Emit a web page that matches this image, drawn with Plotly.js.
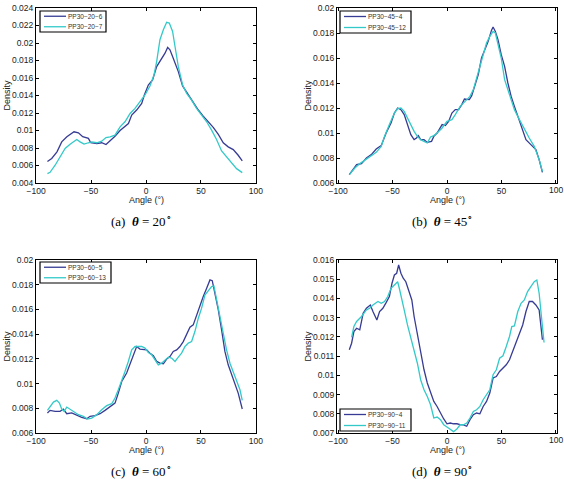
<!DOCTYPE html>
<html>
<head>
<meta charset="utf-8">
<script src="https://cdn.plot.ly/plotly-3.0.1.min.js"></script>
<style>html,body{margin:0;padding:0;background:#fff}#chart{width:564px;height:483px}</style>
</head>
<body>
<div id="chart"></div>
<script>
// ---- Data ----
const names20 = ['PP30\u221220\u22126', 'PP30\u221220\u22127'];
const x20a = [-89.7,-85.8,-81,-76.7,-72,-67.6,-65.5,-61.5,-57.6,-52.4,-50.3,-44.8,-40.3,-36.4,-32.7,-28.2,-23.6,-19.1,-16,-13,-8.5,-3.9,-1.5,2.1,6,9.7,14.2,17.3,19.7,21.8,24.8,29.4,33.3,38.5,43,47.6,52.1,56.7,61.2,65.8,70.3,74.8,79.4,83.9,87.6];
const y20a = [0.00645,0.0068,0.00756,0.0087,0.00928,0.00966,0.00985,0.00974,0.0093,0.0091,0.0086,0.0085,0.0086,0.0084,0.0088,0.00935,0.0100,0.01054,0.0108,0.01176,0.01234,0.0131,0.01406,0.0152,0.01578,0.0173,0.01815,0.01884,0.0195,0.01922,0.01826,0.01673,0.01509,0.01406,0.0131,0.01234,0.01165,0.0110,0.01035,0.00955,0.0086,0.00813,0.00782,0.00717,0.00652];
const x20b = [-89.7,-87.3,-82.7,-78.2,-73.6,-69.1,-65.5,-63,-60,-56.4,-52.4,-49.4,-44.8,-40.3,-36.4,-32.7,-28.2,-23.6,-19.1,-14.5,-10,-5.5,-0.9,3.6,7.3,9.7,12.7,15.8,18.8,21.2,24.2,26.4,29.4,33.3,37,41.5,46,50.6,55.2,59.7,64.2,68.8,73.3,77.9,82.4,87.6];
const y20b = [0.00507,0.00522,0.00603,0.00698,0.00794,0.00844,0.0087,0.00897,0.0087,0.00844,0.0086,0.0087,0.0086,0.00878,0.0092,0.00928,0.00947,0.01042,0.011,0.01195,0.01253,0.0133,0.01406,0.01509,0.01635,0.01788,0.02037,0.02151,0.02236,0.02228,0.02132,0.0196,0.0173,0.0152,0.01425,0.01348,0.01253,0.01176,0.011,0.01004,0.00897,0.00767,0.00698,0.00622,0.00564,0.00519];

const names45 = ['PP30\u221245\u22124', 'PP30\u221245\u221212'];
const x45a = [-89.7,-86,-83,-78.5,-74,-69.5,-65,-60.4,-55.9,-51.4,-48.3,-45.3,-42.3,-39.3,-36.3,-33.2,-30.2,-28,-26.3,-24.2,-21.1,-18.1,-14.2,-12.1,-9.1,-4.5,-1.5,1.5,4.5,7.6,10.6,13.6,16,18.1,20.5,22.7,25.7,28.7,31.7,34.7,37.8,40.8,42.3,44.4,46.8,49.8,52.9,55.9,58.9,61.9,65,68,72.5,77,81.6,84.6,87.6];
const y45a = [0.00667,0.00707,0.00747,0.00755,0.008,0.00827,0.00872,0.00899,0.01,0.0108,0.0116,0.012,0.01187,0.01147,0.01067,0.00987,0.00947,0.0096,0.00979,0.00947,0.00947,0.00925,0.00933,0.00973,0.01,0.01067,0.01059,0.01093,0.0116,0.01187,0.01187,0.01227,0.01272,0.01272,0.01267,0.01299,0.01387,0.01467,0.016,0.01667,0.01733,0.01821,0.01848,0.01813,0.01747,0.01627,0.01533,0.014,0.01293,0.01213,0.01133,0.01053,0.00947,0.00907,0.00867,0.00787,0.00685];
const x45b = [-89.7,-84.6,-80,-74,-69.5,-65,-60.4,-57.4,-52.9,-48.3,-45.3,-42.3,-39.3,-36.3,-33.2,-30.2,-27.2,-24.2,-21.1,-18.1,-15.1,-12.1,-9.1,-4.5,0,4.5,7.6,12.1,16.6,21.1,24.2,27.2,31.7,36.3,39.3,42.3,44.4,46.8,49.8,52.9,55.9,58.9,61.9,66.5,71,75.5,80.1,84.6,87.6];
const y45b = [0.00667,0.0072,0.00755,0.00792,0.00813,0.00845,0.00893,0.00973,0.01067,0.0116,0.01195,0.012,0.01173,0.0112,0.01067,0.01013,0.00973,0.00947,0.00933,0.0092,0.00968,0.00979,0.01,0.0104,0.01093,0.01107,0.01147,0.01213,0.01253,0.01293,0.01347,0.0144,0.0156,0.0172,0.01773,0.01813,0.018,0.0172,0.016,0.01427,0.01347,0.01267,0.01187,0.01107,0.01027,0.0096,0.00893,0.00787,0.00693];

const names60 = ['PP30\u221260\u22125', 'PP30\u221260\u221213'];
const x60a = [-89.7,-87.3,-82.7,-78.2,-75.2,-72.1,-67.6,-63,-58.5,-53.9,-50.9,-46.4,-41.8,-37.3,-32.7,-28.2,-25.2,-22.1,-17.6,-13.9,-11.5,-8.5,-5.5,-2.4,0.6,3.6,6.7,9.7,12.7,15.8,18.8,21.8,24.8,27.9,30.9,33.9,37,40,43,46.1,49.1,52.1,55.2,58.2,60.3,62.7,65.8,68.8,71.8,74.8,77.9,80.9,83.9,87.6];
const y60a = [0.00762,0.00783,0.00775,0.00775,0.00794,0.00756,0.00762,0.00743,0.00727,0.00716,0.00735,0.0074,0.00756,0.00783,0.0081,0.00842,0.00923,0.01017,0.01085,0.01179,0.01233,0.0130,0.01279,0.01273,0.01273,0.01246,0.01225,0.01179,0.01165,0.0116,0.01198,0.01219,0.0126,0.01273,0.0130,0.0134,0.01394,0.01456,0.01475,0.01556,0.01637,0.01704,0.01771,0.01839,0.01833,0.01731,0.01596,0.01435,0.0126,0.01152,0.01071,0.01004,0.00923,0.00794];
const x60b = [-89.7,-87.3,-84.2,-81.2,-78.8,-76.7,-74.5,-72.1,-69.1,-66.1,-61.5,-57,-53.3,-49.4,-44.8,-40.3,-35.8,-31.2,-28.2,-25.2,-22.1,-19.1,-16.1,-13,-10,-7,-3.9,-0.9,2.1,5.2,8.2,11.2,14.2,17.3,20.3,23.3,26.4,29.4,32.4,35.5,38.5,41.5,44.5,47.6,50.6,53.6,56.7,59.7,61.8,64.2,67.3,70.3,73.3,76.4,79.4,82.4,85.5,87.6];
const y60b = [0.00783,0.00815,0.0085,0.00864,0.00842,0.00794,0.00775,0.0081,0.00794,0.00775,0.00748,0.00735,0.00713,0.00721,0.00748,0.00788,0.00821,0.00837,0.00883,0.0095,0.01017,0.01098,0.01179,0.01273,0.0130,0.0130,0.0130,0.01287,0.01252,0.01233,0.01192,0.01152,0.01165,0.01192,0.01214,0.01206,0.01179,0.01214,0.01246,0.0130,0.01327,0.0134,0.01421,0.01529,0.0161,0.01717,0.01752,0.01785,0.0179,0.01677,0.01556,0.01421,0.01273,0.01165,0.01098,0.01031,0.0095,0.00864];

const names90 = ['PP30\u221290\u22124', 'PP30\u221290\u221211'];
const x90a = [-89.7,-87.6,-85.5,-83,-80.1,-77,-74,-70.4,-68,-64.4,-61.9,-58.9,-55.9,-52.9,-50.5,-48.3,-46.2,-44.4,-42.3,-40.2,-37.8,-35.3,-32.3,-30.2,-27.2,-24.2,-21.1,-18.1,-15.1,-12.1,-9.1,-6,-3,0,3,6,9.1,12.1,15.1,18.1,21.1,24.2,27.2,30.2,33.2,36.3,39.3,42.3,45.3,48.3,51.4,54.4,57.4,60.4,63.4,66.5,69.5,72.5,75.5,78.5,81.6,84.6,87.6];
const y90a = [0.01133,0.01167,0.01228,0.01245,0.01237,0.01323,0.01349,0.01366,0.01332,0.01288,0.01332,0.01349,0.01378,0.0141,0.01479,0.01522,0.01531,0.01574,0.01531,0.01505,0.01487,0.01444,0.01392,0.01306,0.01211,0.01115,0.01029,0.0096,0.00916,0.00864,0.00838,0.00804,0.00773,0.00748,0.00752,0.00748,0.00748,0.00743,0.00742,0.00735,0.00769,0.00795,0.00804,0.008,0.00838,0.00864,0.00908,0.00986,0.00994,0.0102,0.01037,0.01055,0.01081,0.01124,0.01167,0.01219,0.01262,0.01332,0.01384,0.01384,0.01366,0.0134,0.01185];
const x90b = [-87.6,-85.5,-83,-78.5,-74,-71,-68,-65.6,-63.4,-60.4,-57.4,-54.4,-51.4,-48.3,-45.3,-43.8,-41.4,-39.3,-36.3,-33.2,-30.2,-27.2,-24.2,-21.1,-18.1,-15.1,-12.1,-9.1,-6,-3,0,3,6,9.1,12.1,15.1,18.1,21.1,24.2,27.2,30.2,33.2,36.3,39.3,42.3,45.3,48.3,51.4,54.4,57.4,59.5,61.9,65,68,71,74,77,80.1,82.5,84.6,86.7,89.1];
const y90b = [0.01198,0.01254,0.0128,0.01306,0.0134,0.01349,0.01366,0.01375,0.01384,0.01375,0.01384,0.0141,0.01453,0.0147,0.01487,0.01453,0.01384,0.0134,0.01262,0.01193,0.01133,0.01063,0.00977,0.00925,0.0089,0.00847,0.00778,0.00783,0.00769,0.00743,0.00731,0.00717,0.00707,0.00721,0.00743,0.00743,0.00752,0.00778,0.00812,0.00821,0.00838,0.00873,0.00899,0.00925,0.01003,0.01029,0.01089,0.01102,0.0115,0.01202,0.01254,0.01257,0.01332,0.01375,0.01392,0.01436,0.01462,0.01487,0.01496,0.01427,0.01306,0.01171];

// tick labels
const xTicks = [-100, -50, 0, 50, 100];
const xTickText = ['\u2212100', '\u221250', '0', '50', '100'];
const yTicks20 = [0.004,0.006,0.008,0.01,0.012,0.014,0.016,0.018,0.02,0.022,0.024];
const yTickText20 = ['0.004','0.006','0.008','0.01','0.012','0.014','0.016','0.018','0.02','0.022','0.024'];
const yTicks45 = [0.006,0.008,0.01,0.012,0.014,0.016,0.018,0.02];
const yTickText45 = ['0.006','0.008','0.01','0.012','0.014','0.016','0.018','0.02'];
const yTicks90 = [0.007,0.008,0.009,0.01,0.011,0.012,0.013,0.014,0.015,0.016];
const yTickText90 = ['0.007','0.008','0.009','0.01','0.011','0.012','0.013','0.014','0.015','0.016'];
const captions = ['(a)', '(b)', '(c)', '(d)'];
const thetas = ['20', '45', '60', '90'];
const xLabel = 'Angle (\u00b0)';
const yLabel = 'Density';

// ---- Styling / layout ----
const C1 = '#363b94', C2 = '#33c9c9';
const W = 564, H = 483;
const boxes = [ // pixel boxes [left,right,top,bottom]
  [36, 256, 8, 183], [337, 557, 8, 183], [36, 256, 260, 433], [337, 557, 260, 433]
];
const xRanges = [[-100.1, 100.1], [-101, 101], [-100.1, 100.1], [-101, 101]];
// right-column panels: Plotly drops the last tick label at the page edge, so it is placed via the axis scale instead
const edgeLabelFix = [false, true, false, true];
// legend boxes in pixels [left,right,top,bottom] (compact MATLAB-style legends)
const legBoxes = [[40, 106, 11, 32], [340, 411, 11, 33], [40, 111, 262, 283], [340, 411, 409, 431]];
const px = v => v / W, py = v => 1 - v / H;
const sans = 'Liberation Sans, Arial, sans-serif';
const tickFont = {family: sans, size: 8.5, color: '#222'};

const sets = [
  {names: names20, xa: x20a, ya: y20a, xb: x20b, yb: y20b, yr: [0.004, 0.024], yt: yTicks20, ytt: yTickText20},
  {names: names45, xa: x45a, ya: y45a, xb: x45b, yb: y45b, yr: [0.006, 0.02], yt: yTicks45, ytt: yTickText45},
  {names: names60, xa: x60a, ya: y60a, xb: x60b, yb: y60b, yr: [0.006, 0.02], yt: yTicks45, ytt: yTickText45},
  {names: names90, xa: x90a, ya: y90a, xb: x90b, yb: y90b, yr: [0.007, 0.016], yt: yTicks90, ytt: yTickText90}
];

const data = [];
const layout = {
  width: W, height: H, margin: {l: 0, r: 0, t: 0, b: 0},
  paper_bgcolor: '#fff', plot_bgcolor: '#fff', showlegend: false,
  annotations: [], shapes: []
};
sets.forEach((s, i) => {
  const n = i === 0 ? '' : String(i + 1);
  const b = boxes[i];
  const colors = [C1, C2];
  data.push({x: s.xa, y: s.ya, type: 'scatter', mode: 'lines', name: s.names[0],
    line: {color: C1, width: 1.3}, xaxis: 'x' + n, yaxis: 'y' + n});
  data.push({x: s.xb, y: s.yb, type: 'scatter', mode: 'lines', name: s.names[1],
    line: {color: C2, width: 1.3}, xaxis: 'x' + n, yaxis: 'y' + n});
  const common = {showgrid: false, zeroline: false, showline: true, linecolor: '#000', linewidth: 1,
    mirror: 'allticks', ticks: 'inside', ticklen: 3, tickcolor: '#000', tickfont: tickFont,
    fixedrange: true, ticklabeloverflow: 'allow'};
  const tt = edgeLabelFix[i] ? xTickText.map((t, k) => k === xTickText.length - 1 ? '' : t) : xTickText;
  layout['xaxis' + n] = Object.assign({}, common, {domain: [px(b[0]), px(b[1])], range: xRanges[i],
    tickvals: xTicks, ticktext: tt, anchor: 'y' + n});
  layout['yaxis' + n] = Object.assign({}, common, {domain: [py(b[3]), py(b[2])], range: s.yr,
    tickvals: s.yt, ticktext: s.ytt, anchor: 'x' + n});
  if (edgeLabelFix[i]) {
    const last = xTicks.length - 1;
    layout.annotations.push({xref: 'x' + n, yref: 'y' + n, x: xTicks[last], y: s.yr[0], text: xTickText[last],
      showarrow: false, xanchor: 'center', yanchor: 'top', yshift: -1, borderpad: 0, font: tickFont});
  }
  // compact legend: box, line samples, labels
  const L = legBoxes[i];
  layout.shapes.push({type: 'rect', xref: 'paper', yref: 'paper', x0: px(L[0]), x1: px(L[1]), y0: py(L[3]), y1: py(L[2]),
    line: {color: '#000', width: 1.2}, fillcolor: '#fff', layer: 'above'});
  const rowH = (L[3] - L[2]) / 2;
  [0, 1].forEach(k => {
    const yy = L[2] + rowH * (k + 0.5);
    layout.shapes.push({type: 'line', xref: 'paper', yref: 'paper', x0: px(L[0] + 4), x1: px(L[0] + 26), y0: py(yy), y1: py(yy),
      line: {color: colors[k], width: 1.3}, layer: 'above'});
    layout.annotations.push({xref: 'paper', yref: 'paper', x: px(L[0] + 27), y: py(yy), text: s.names[k],
      showarrow: false, xanchor: 'left', yanchor: 'middle', borderpad: 0,
      font: {family: sans, size: 6.5, color: '#333'}});
  });
  // axis titles
  layout.annotations.push({xref: 'paper', yref: 'paper', x: px((b[0] + b[1]) / 2), y: py(b[3] + 17),
    text: xLabel, showarrow: false, font: {family: sans, size: 9, color: '#222'},
    xanchor: 'center', yanchor: 'middle'});
  layout.annotations.push({xref: 'paper', yref: 'paper', x: px(b[0] - 30), y: py((b[2] + b[3]) / 2),
    text: yLabel, textangle: -90, showarrow: false, font: {family: sans, size: 9, color: '#222'},
    xanchor: 'center', yanchor: 'middle'});
  // caption
  layout.annotations.push({xref: 'paper', yref: 'paper', x: px((b[0] + b[1]) / 2 - 5), y: py(b[3] + 38),
    text: captions[i] + '  <b><i>\u03b8</i></b> = ' + thetas[i] + '<sup>\u2218</sup>', showarrow: false,
    font: {family: 'Liberation Serif, Times New Roman, serif', size: 13, color: '#000'},
    xanchor: 'center', yanchor: 'middle'});
});
Plotly.newPlot('chart', data, layout, {displayModeBar: false, staticPlot: true});
</script>
</body>
</html>
